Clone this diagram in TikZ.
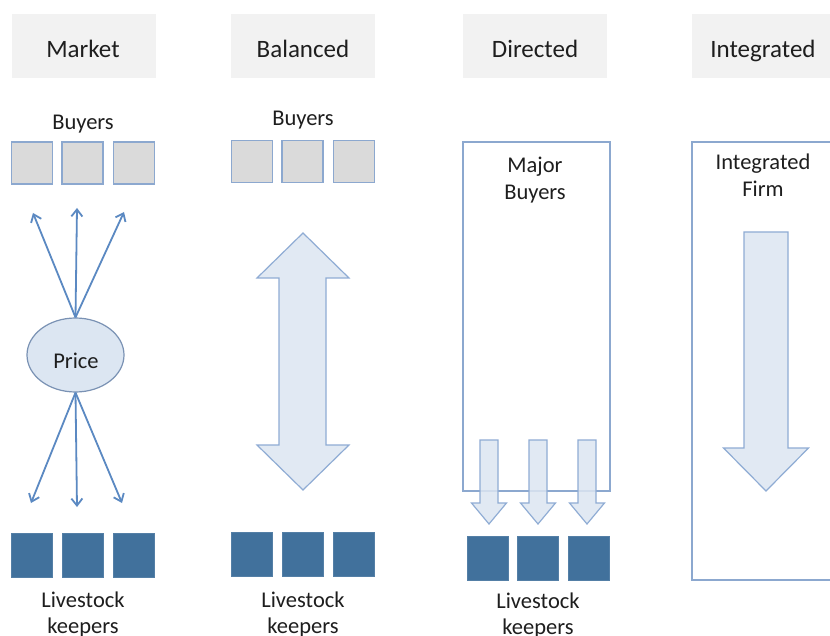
\documentclass[tikz,border=0pt]{standalone}
\usepackage{fontspec}
\setmainfont{Carlito}
\usetikzlibrary{arrows.meta,shapes.geometric}
\definecolor{hdrfill}{HTML}{F2F2F2}
\definecolor{buyfill}{HTML}{DADADA}
\definecolor{boxline}{HTML}{8CA8CF}
\definecolor{keepfill}{HTML}{41719C}
\definecolor{thinarrow}{HTML}{5B89C2}
\definecolor{blockfill}{HTML}{DCE6F2}
\definecolor{blockline}{HTML}{8FACD4}
\definecolor{txt}{HTML}{1E1E1E}
\tikzset{
  hdr/.style={fill=hdrfill, draw=none, minimum width=144, minimum height=64, inner sep=0},
  hdrtext/.style={anchor=base, text=txt, font=\fontsize{25}{29}\selectfont, inner sep=0},
  lbl/.style={anchor=base, text=txt, font=\fontsize{22.5}{26}\selectfont, inner sep=0},
  buyer/.style={fill=buyfill, draw=boxline, line width=1.2, minimum width=41, minimum height=42, inner sep=0},
  keeper/.style={fill=keepfill, draw=keepfill!90!white, line width=0.6, minimum width=41, minimum height=44, inner sep=0},
  thin/.style={draw=thinarrow, line width=1.8, -{Straight Barb[length=7,width=11,line width=1.8]}},
  block/.style={fill=blockfill, fill opacity=0.85, draw=blockline, line width=1.2, line join=miter},
  bigbox/.style={draw=boxline, line width=1.4, fill=none}
}
\begin{document}
\begin{tikzpicture}[x=1pt,y=-1pt]
\useasboundingbox (0,0) rectangle (830,636);
\clip (0,0) rectangle (830,636);
\fill[white] (0,0) rectangle (830,636);

% headers
\node[hdr] (h1) at (83.5,46) {};
\node[hdr] (h2) at (303,46) {};
\node[hdr] (h3) at (535,46) {};
\node[hdr, minimum width=150] (h4) at (767,46) {};
\node[hdrtext] (t1) at (83,58) {Market};
\node[hdrtext] (t2) at (303,58) {Balanced};
\node[hdrtext] (t3) at (535,58) {Directed};
\node[hdrtext] (t4) at (763,58) {Integrated};

% ---------- Market ----------
\node[lbl] (mbl) at (83,130) {Buyers};
\node[buyer] (mb1) at (32,163) {};
\node[buyer] (mb2) at (82.5,163) {};
\node[buyer] (mb3) at (134,163) {};
\node[ellipse, fill=blockfill, draw=blockline!85!black, line width=1.2, minimum width=97, minimum height=74, inner sep=0] (price) at (75.5,355) {};
\node[lbl] (pricet) at (76,368) {Price};
\coordinate (mu1) at (33,213);
\coordinate (mu2) at (77,208);
\coordinate (mu3) at (124,212);
\coordinate (md1) at (31,503);
\coordinate (md2) at (77,507);
\coordinate (md3) at (122,503);
\draw[thin] (price.north) -- (mu1);
\draw[thin] (price.north) -- (mu2);
\draw[thin] (price.north) -- (mu3);
\draw[thin] (price.south) -- (md1);
\draw[thin] (price.south) -- (md2);
\draw[thin] (price.south) -- (md3);
\node[keeper] (mk1) at (32,555.5) {};
\node[keeper] (mk2) at (82.5,555.5) {};
\node[keeper] (mk3) at (134,555.5) {};
\node[lbl] (mkl1) at (83,607) {Livestock};
\node[lbl] (mkl2) at (83,633) {keepers};

% ---------- Balanced ----------
\node[lbl] (bbl) at (303,126) {Buyers};
\node[buyer] (bb1) at (252,161.5) {};
\node[buyer] (bb2) at (302.5,161.5) {};
\node[buyer] (bb3) at (354,161.5) {};
\draw[block] (303,233) -- (349,278) -- (326,278) -- (326,445) -- (349,445) -- (303,490)
  -- (257,445) -- (279,445) -- (279,278) -- (257,278) -- cycle;
\node[keeper] (bk1) at (252,554) {};
\node[keeper] (bk2) at (302.5,554) {};
\node[keeper] (bk3) at (354,554) {};
\node[lbl] (bkl1) at (303,607) {Livestock};
\node[lbl] (bkl2) at (303,633) {keepers};

% ---------- Directed ----------
\draw[bigbox] (463,142) rectangle (610,491);
\node[lbl] (dm1) at (535,173) {Major};
\node[lbl] (dm2) at (535,200) {Buyers};
\foreach \cx in {489,538,587}{
  \draw[block] (\cx-9,440) -- (\cx+9,440) -- (\cx+9,503) -- (\cx+17.5,503) -- (\cx,524)
    -- (\cx-17.5,503) -- (\cx-9,503) -- cycle;
}
\node[keeper] (dk1) at (487.5,558.5) {};
\node[keeper] (dk2) at (538,558.5) {};
\node[keeper] (dk3) at (589,558.5) {};
\node[lbl] (dkl1) at (538,608) {Livestock};
\node[lbl] (dkl2) at (538,634) {keepers};

% ---------- Integrated ----------
\draw[bigbox] (692,142) rectangle (845,580);
\node[lbl] (if1) at (763,170) {Integrated};
\node[lbl] (if2) at (763,197) {Firm};
\draw[block] (744,232) -- (788,232) -- (788,448) -- (808.5,448) -- (766,491)
  -- (723.5,448) -- (744,448) -- cycle;
\end{tikzpicture}
\end{document}
